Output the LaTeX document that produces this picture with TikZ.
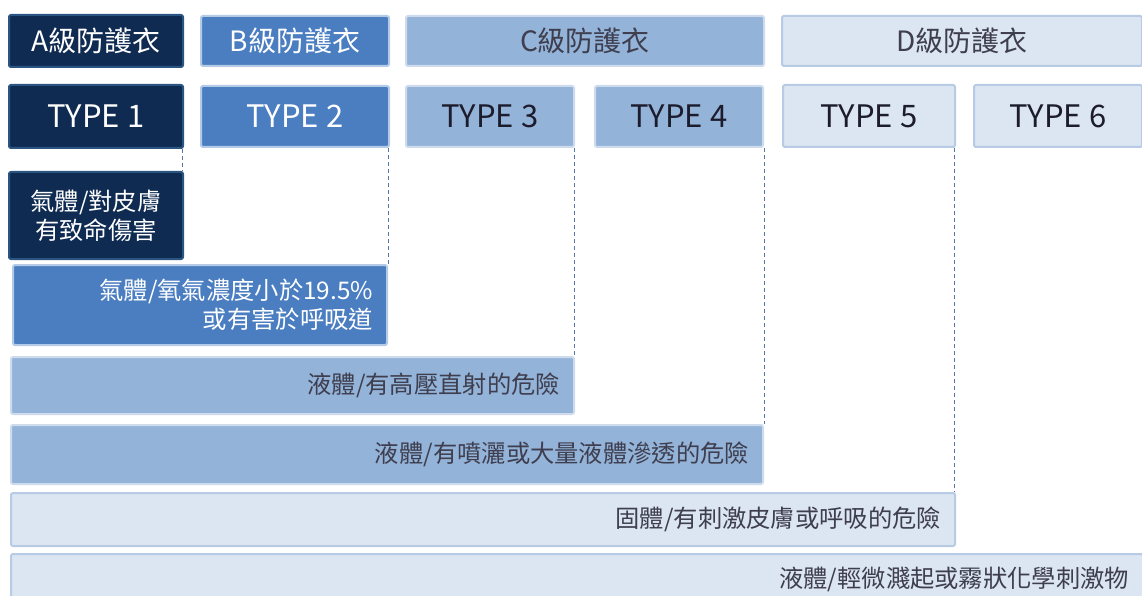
\documentclass[tikz,border=0pt]{standalone}
\usepackage{fontspec}
\setmainfont{Noto Sans CJK TC}
\definecolor{navyF}{HTML}{0F2B52}
\definecolor{navyB}{HTML}{2A5583}
\definecolor{bF}{HTML}{4A7EC1}
\definecolor{bB}{HTML}{B3CBE7}
\definecolor{cF}{HTML}{93B3D9}
\definecolor{cB}{HTML}{CDDBED}
\definecolor{dF}{HTML}{DCE6F2}
\definecolor{dB}{HTML}{B7CBE4}
\definecolor{dashC}{HTML}{5577A5}
\definecolor{darkT}{HTML}{1C1C2C}
\definecolor{grayT}{HTML}{3E3E4E}
\tikzset{
  base/.style={rectangle, rounded corners=2pt, line width=2pt, anchor=north west, inner sep=0pt},
  lvA/.style={base, fill=navyF, draw=navyB, text=white},
  lvB/.style={base, fill=bF, draw=bB, text=white},
  lvC/.style={base, fill=cF, draw=cB, text=darkT},
  lvD/.style={base, fill=dF, draw=dB, text=darkT},
  clsfont/.style={font=\fontsize{28}{32}\selectfont},
  typefont/.style={font=\fontsize{31}{35}\selectfont},
  rowfont/.style={font=\fontsize{24.3}{29}\selectfont},
  rowbox/.style={rowfont, inner xsep=14pt, align=right},
  dashln/.style={draw=dashC, line width=1pt, dash pattern=on 4pt off 3pt}
}
\begin{document}
\begin{tikzpicture}[x=1pt,y=-1pt]
\useasboundingbox (0,0) rectangle (1142,596);
% class row
\node[lvA, clsfont, minimum width=174, minimum height=52] (ca) at (8,14) {A級防護衣};
\node[lvB, clsfont, minimum width=188, minimum height=50] (cb) at (200,15) {B級防護衣};
\node[lvC, clsfont, minimum width=358, minimum height=50, text=grayT] (cc) at (405,15) {C級防護衣};
\node[lvD, clsfont, minimum width=360, minimum height=50, text=grayT] (cd) at (781,15) {D級防護衣};
% type row
\node[lvA, typefont, minimum width=174, minimum height=63] (t1) at (8,84) {TYPE 1};
\node[lvB, typefont, minimum width=188, minimum height=61] (t2) at (200,85) {TYPE 2};
\node[lvC, typefont, minimum width=168, minimum height=61] (t3) at (405,85) {TYPE 3};
\node[lvC, typefont, minimum width=168, minimum height=61] (t4) at (594,85) {TYPE 4};
\node[lvD, typefont, minimum width=172, minimum height=62] (t5) at (782,84) {TYPE 5};
\node[lvD, typefont, minimum width=168, minimum height=62] (t6) at (973,84) {TYPE 6};
% hazard rows
\node[lvA, rowfont, align=center, minimum width=174, minimum height=87] (g1) at (8,171) {氣體/對皮膚\\有致命傷害};
\node[lvB, rowbox, text width=346, minimum width=374, minimum height=80] (g2) at (12,264) {氣體/氧氣濃度小於19.5\%\\或有害於呼吸道};
\node[lvC, rowbox, text=grayT, text width=535, minimum width=563, minimum height=57] (g3) at (10,356) {液體/有高壓直射的危險};
\node[lvC, rowbox, text=grayT, text width=724, minimum width=752, minimum height=59] (g4) at (10,424) {液體/有噴灑或大量液體滲透的危險};
\node[lvD, rowbox, text=grayT, text width=916, minimum width=944, minimum height=53] (g5) at (10,492) {固體/有刺激皮膚或呼吸的危險};
\node[lvD, rowbox, text=grayT, text width=1104, minimum width=1132, minimum height=50] (g6) at (10,553) {液體/輕微濺起或霧狀化學刺激物};
% dashed guides
\draw[dashln] ([xshift=-2pt]t1.south east) -- ([xshift=-2pt]t1.south east |- g1.north);
\draw[dashln] ([xshift=-2pt]t2.south east) -- ([xshift=-2pt]t2.south east |- g2.north);
\draw[dashln] ([xshift=-1pt]t3.south east) -- ([xshift=-1pt]t3.south east |- g3.north);
\draw[dashln] (t4.south east) -- (t4.south east |- g4.north);
\draw[dashln] ([xshift=-2pt]t5.south east) -- ([xshift=-2pt]t5.south east |- g5.north);
\end{tikzpicture}
\end{document}
